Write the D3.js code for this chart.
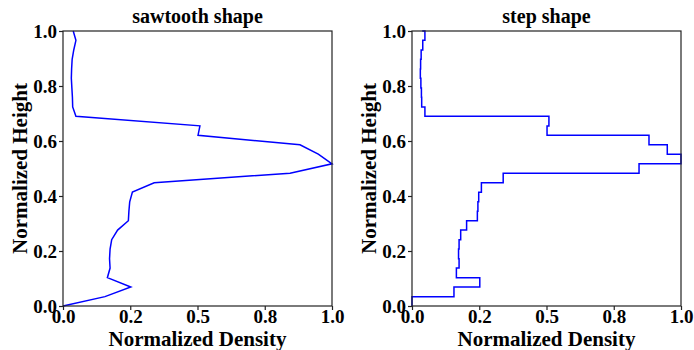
<!doctype html>
<html>
<head>
<meta charset="utf-8">
<script src="https://d3js.org/d3.v7.min.js"></script>
<style>
  body { margin: 0; background: #fff; }
  text { font-family: "Liberation Serif", "Times New Roman", serif; font-weight: bold; }
</style>
</head>
<body>
<script>
// normalized height of each sample (bottom to top)
var heights = [0, 0.034, 0.069, 0.103, 0.138, 0.172, 0.207, 0.241, 0.276, 0.31,
               0.345, 0.379, 0.414, 0.448, 0.483, 0.517, 0.552, 0.586, 0.621, 0.655,
               0.69, 0.724, 0.759, 0.793, 0.828, 0.862, 0.897, 0.931, 0.966, 1.0];
// normalized density at each height
var density = [0, 0.156, 0.252, 0.165, 0.175, 0.173, 0.175, 0.181, 0.203, 0.243,
               0.245, 0.248, 0.258, 0.339, 0.844, 1.0, 0.949, 0.881, 0.502, 0.509,
               0.048, 0.036, 0.035, 0.033, 0.031, 0.032, 0.034, 0.040, 0.048, 0.038];

var xTicks = [0, 0.25, 0.5, 0.75, 1.0];
var xTickLabels = ["0.0", "0.2", "0.5", "0.8", "1.0"];
var yTicks = [0, 0.2, 0.4, 0.6, 0.8, 1.0];
var yTickLabels = ["0.0", "0.2", "0.4", "0.6", "0.8", "1.0"];

var titles = ["sawtooth shape", "step shape"];
var curves = [d3.curveLinear, d3.curveStepBefore];
var panelLeft = [63, 412];

var W = 694, H = 350;
var plotTop = 31, plotBottom = 306, pw = 269;
var ph = plotBottom - plotTop;

var points = heights.map(function(h, i) { return {h: h, d: density[i]}; });

var svg = d3.select("body").append("svg")
    .attr("width", W)
    .attr("height", H);

titles.forEach(function(title, k) {
    var x = d3.scaleLinear().domain([0, 1]).range([0, pw]);
    var y = d3.scaleLinear().domain([0, 1]).range([ph, 0]);

    var g = svg.append("g")
        .attr("transform", "translate(" + panelLeft[k] + "," + plotTop + ")");

    var line = d3.line()
        .x(function(d) { return x(d.d); })
        .y(function(d) { return y(d.h); })
        .curve(curves[k]);

    g.append("path")
        .datum(points)
        .attr("d", line)
        .attr("fill", "none")
        .attr("stroke", "#0000ff")
        .attr("stroke-width", 1.5);

    // frame
    g.append("rect")
        .attr("width", pw)
        .attr("height", ph)
        .attr("fill", "none")
        .attr("stroke", "#222")
        .attr("stroke-width", 1.2);

    var xAxis = d3.axisBottom(x)
        .tickValues(xTicks)
        .tickSize(4)
        .tickPadding(0)
        .tickFormat(function(d, i) { return xTickLabels[i]; });
    var gx = g.append("g")
        .attr("transform", "translate(0," + ph + ")")
        .call(xAxis);

    var yAxis = d3.axisLeft(y)
        .tickValues(yTicks)
        .tickSize(4)
        .tickPadding(2)
        .tickFormat(function(d, i) { return yTickLabels[i]; });
    var gy = g.append("g").call(yAxis);

    [gx, gy].forEach(function(a) {
        a.select(".domain").remove();
        a.selectAll("line").attr("stroke", "#222").attr("stroke-width", 1.2);
        a.selectAll("text")
            .attr("fill", "#000")
            .style("font-size", "19px")
            .style("font-family", "Liberation Serif")
            .style("font-weight", "bold");
    });

    g.append("text")
        .attr("x", pw / 2)
        .attr("y", -8)
        .attr("text-anchor", "middle")
        .style("font-size", "20px")
        .text(title);

    g.append("text")
        .attr("x", pw / 2)
        .attr("y", 346 - plotTop)
        .attr("text-anchor", "middle")
        .style("font-size", "21px")
        .text("Normalized Density");

    g.append("text")
        .attr("transform", "translate(-36," + (ph / 2) + ") rotate(-90)")
        .attr("text-anchor", "middle")
        .style("font-size", "21px")
        .text("Normalized Height");
});
</script>
</body>
</html>
